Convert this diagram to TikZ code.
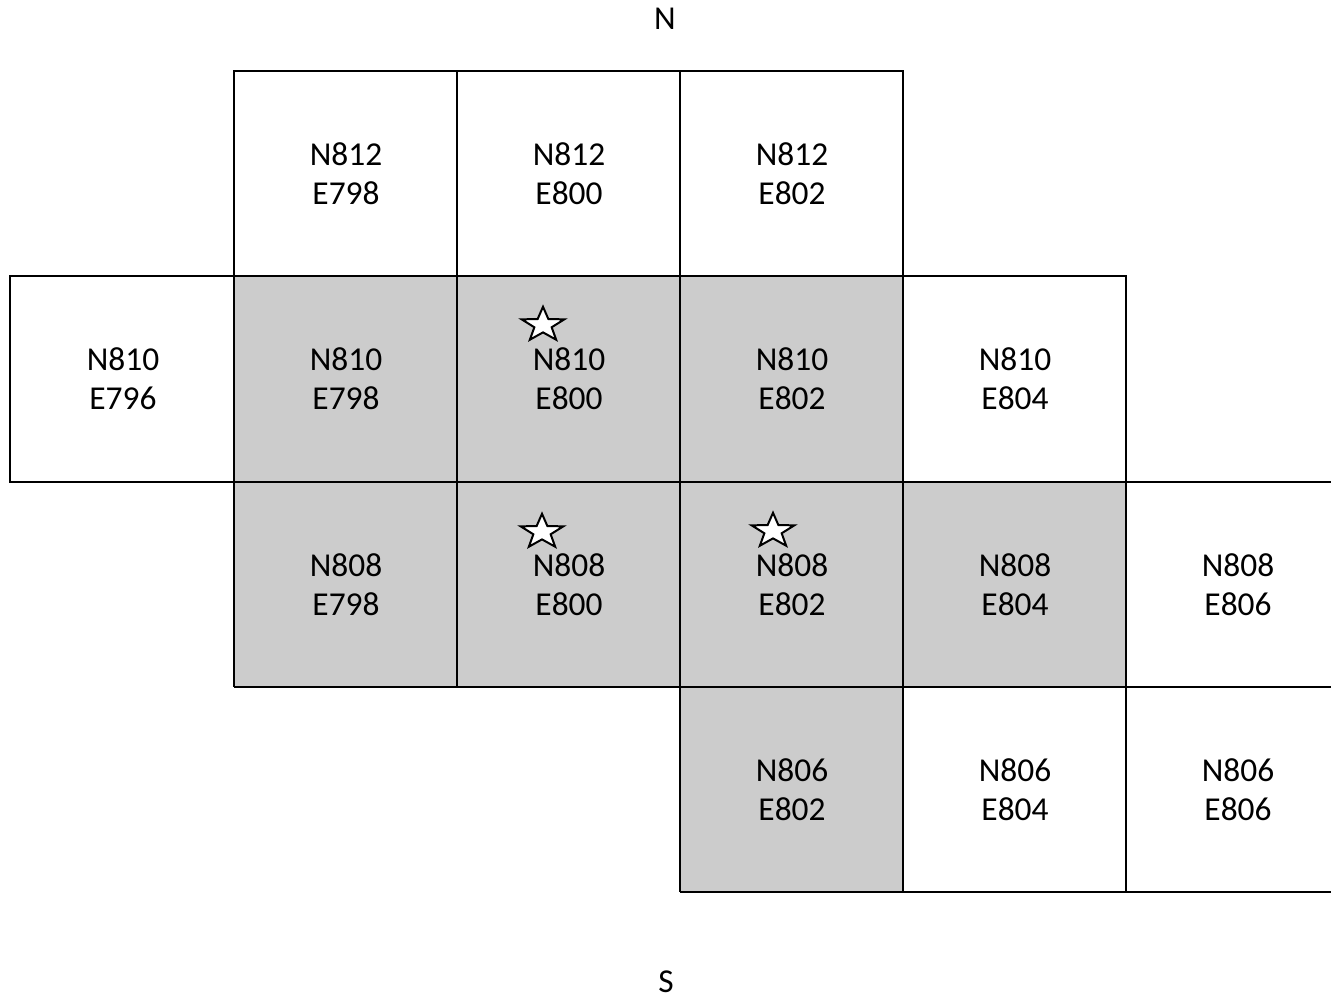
\documentclass[tikz,border=0pt]{standalone}
\usepackage{fontspec}
\setmainfont{Carlito}
\definecolor{cellgray}{HTML}{CCCCCC}
\begin{document}
\begin{tikzpicture}[x=0.01cm,y=-0.01cm,
  gridline/.style={line width=0.024cm, draw=black},
  lbl/.style={font=\fontsize{9.5pt}{11.1pt}\selectfont, align=center, inner sep=0pt},
  starpic/.pic={\draw[fill=white, line width=0.02cm, line join=miter, xscale=1.23, yscale=-1]
     (90:18.2) -- (126:7.4) -- (162:18.2) -- (198:7.4) -- (234:18.2) -- (270:7.4)
     -- (306:18.2) -- (342:7.4) -- (18:18.2) -- (54:7.4) -- cycle;}]
\useasboundingbox (0,0) rectangle (1331,998);
% gray fills
\fill[cellgray] (234,276) rectangle (903,482);
\fill[cellgray] (234,482) rectangle (1126,687);
\fill[cellgray] (680,687) rectangle (903,892);
% grid lines
\draw[gridline] (234,71) rectangle (903,276);
\draw[gridline] (457,71) -- (457,482);
\draw[gridline] (680,71) -- (680,892);
\draw[gridline] (10,276) rectangle (1126,482);
\draw[gridline] (234,276) -- (234,687);
\draw[gridline] (903,71) -- (903,892);
\draw[gridline] (1126,276) -- (1126,892);
\draw[gridline] (1331,482) -- (1126,482);
\draw[gridline] (234,687) -- (1331,687);
\draw[gridline] (680,892) -- (1331,892);
\draw[gridline] (457,482) -- (457,687);
% compass
\node[lbl] (north) at (665,19) {N};
\node[lbl] (south) at (666,982) {S};
% labels
\node[lbl] (c812798) at (346,174) {N812\\E798};
\node[lbl] (c812800) at (569,174) {N812\\E800};
\node[lbl] (c812802) at (792,174) {N812\\E802};
\node[lbl] (c810796) at (123,379) {N810\\E796};
\node[lbl] (c810798) at (346,379) {N810\\E798};
\node[lbl] (c810800) at (569,379) {N810\\E800};
\node[lbl] (c810802) at (792,379) {N810\\E802};
\node[lbl] (c810804) at (1015,379) {N810\\E804};
\node[lbl] (c808798) at (346,585) {N808\\E798};
\node[lbl] (c808800) at (569,585) {N808\\E800};
\node[lbl] (c808802) at (792,585) {N808\\E802};
\node[lbl] (c808804) at (1015,585) {N808\\E804};
\node[lbl] (c808806) at (1238,585) {N808\\E806};
\node[lbl] (c806802) at (792,790) {N806\\E802};
\node[lbl] (c806804) at (1015,790) {N806\\E804};
\node[lbl] (c806806) at (1238,790) {N806\\E806};
% stars
\pic at (543,325) {starpic};
\pic at (542,532) {starpic};
\pic at (773,531) {starpic};
\end{tikzpicture}
\end{document}
